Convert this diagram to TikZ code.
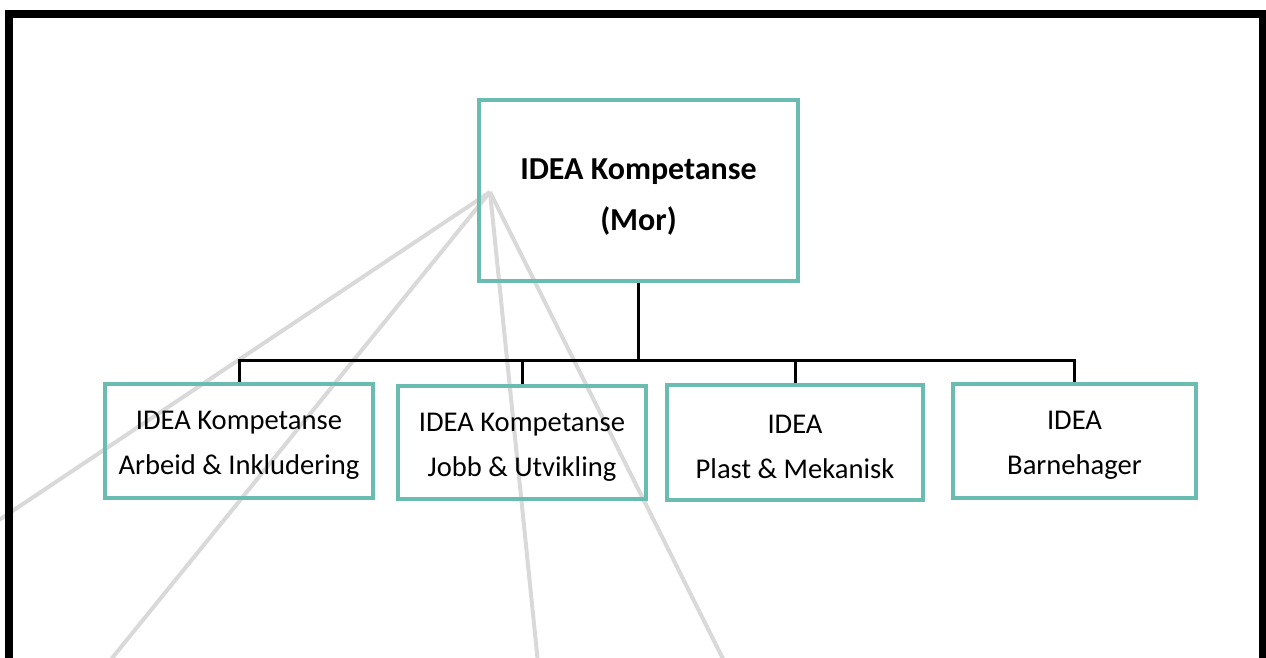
\documentclass[tikz,border=0pt]{standalone}
\usepackage{fontspec}
\setmainfont{Carlito}
\usetikzlibrary{positioning, calc}
\definecolor{ideaTeal}{HTML}{6BBCB0}
\definecolor{rayGray}{HTML}{D9D9D9}
\tikzset{
    boxU/.style args={#1 #2}{
        draw=ideaTeal, line width=4pt, inner sep=0pt, align=center,
        minimum width=#1, minimum height=#2
    },
    boxU/.default={250pt 114pt}
}
\tikzset{
    rayG/.style={draw=rayGray, line width=4pt},
    linkK/.style={draw=black, line width=3pt}
}

\begin{document}
\begin{tikzpicture}[x=1pt, y=-1pt]
    \useasboundingbox (0,0) rectangle (1266,657);
    \clip (0,0) rectangle (1266,657);
    \def \padT {\rule{0pt}{34pt}}
    \def \padC {\rule{0pt}{27pt}}
    % gray rays behind everything
    \coordinate (apex) at (490, 192);
    \coordinate (r1) at (-10, 526);
    \coordinate (r2) at (100, 673);
    \coordinate (r3) at (539, 673);
    \coordinate (r4) at (730, 673);
    \foreach \r in {r1, r2, r3, r4}
        \draw[rayG] (apex) -- (\r);
    % frame
    \draw[line width=8pt] (9, 700) -- (9, 14) -- (1263, 14) -- (1263, 700);
    % boxes
    \node[boxU={319pt 181pt}, font=\fontsize{32}{51}\selectfont\bfseries] (mor) at (638.5, 190.5)
        {\padT IDEA Kompetanse\\(Mor)};
    \tikzstyle{every node}=[font=\fontsize{28.6}{45}\selectfont];
    \node[boxU={268pt 114pt}] (arbeid) at (239, 441) {\padC IDEA Kompetanse\\Arbeid \& Inkludering};
    \node[boxU={248pt 113pt}] (jobb) at (522, 442.5) {\padC IDEA Kompetanse\\Jobb \& Utvikling};
    \node[boxU={256pt 115pt}] (plast) at (795, 442.5) {\padC IDEA\\Plast \& Mekanisk};
    \node[boxU={243pt 114pt}] (barn) at (1074.5, 441) {\padC IDEA\\Barnehager};
    % connectors
    \coordinate (bus) at (638.5, 360);
    \draw[linkK] (mor.south) -- (bus);
    \draw[linkK] (arbeid.north) |- (bus) -| (barn.north);
    \draw[linkK] (jobb.north) -- (jobb.north |- bus);
    \draw[linkK] (plast.north) -- (plast.north |- bus);
\end{tikzpicture}
\end{document}
